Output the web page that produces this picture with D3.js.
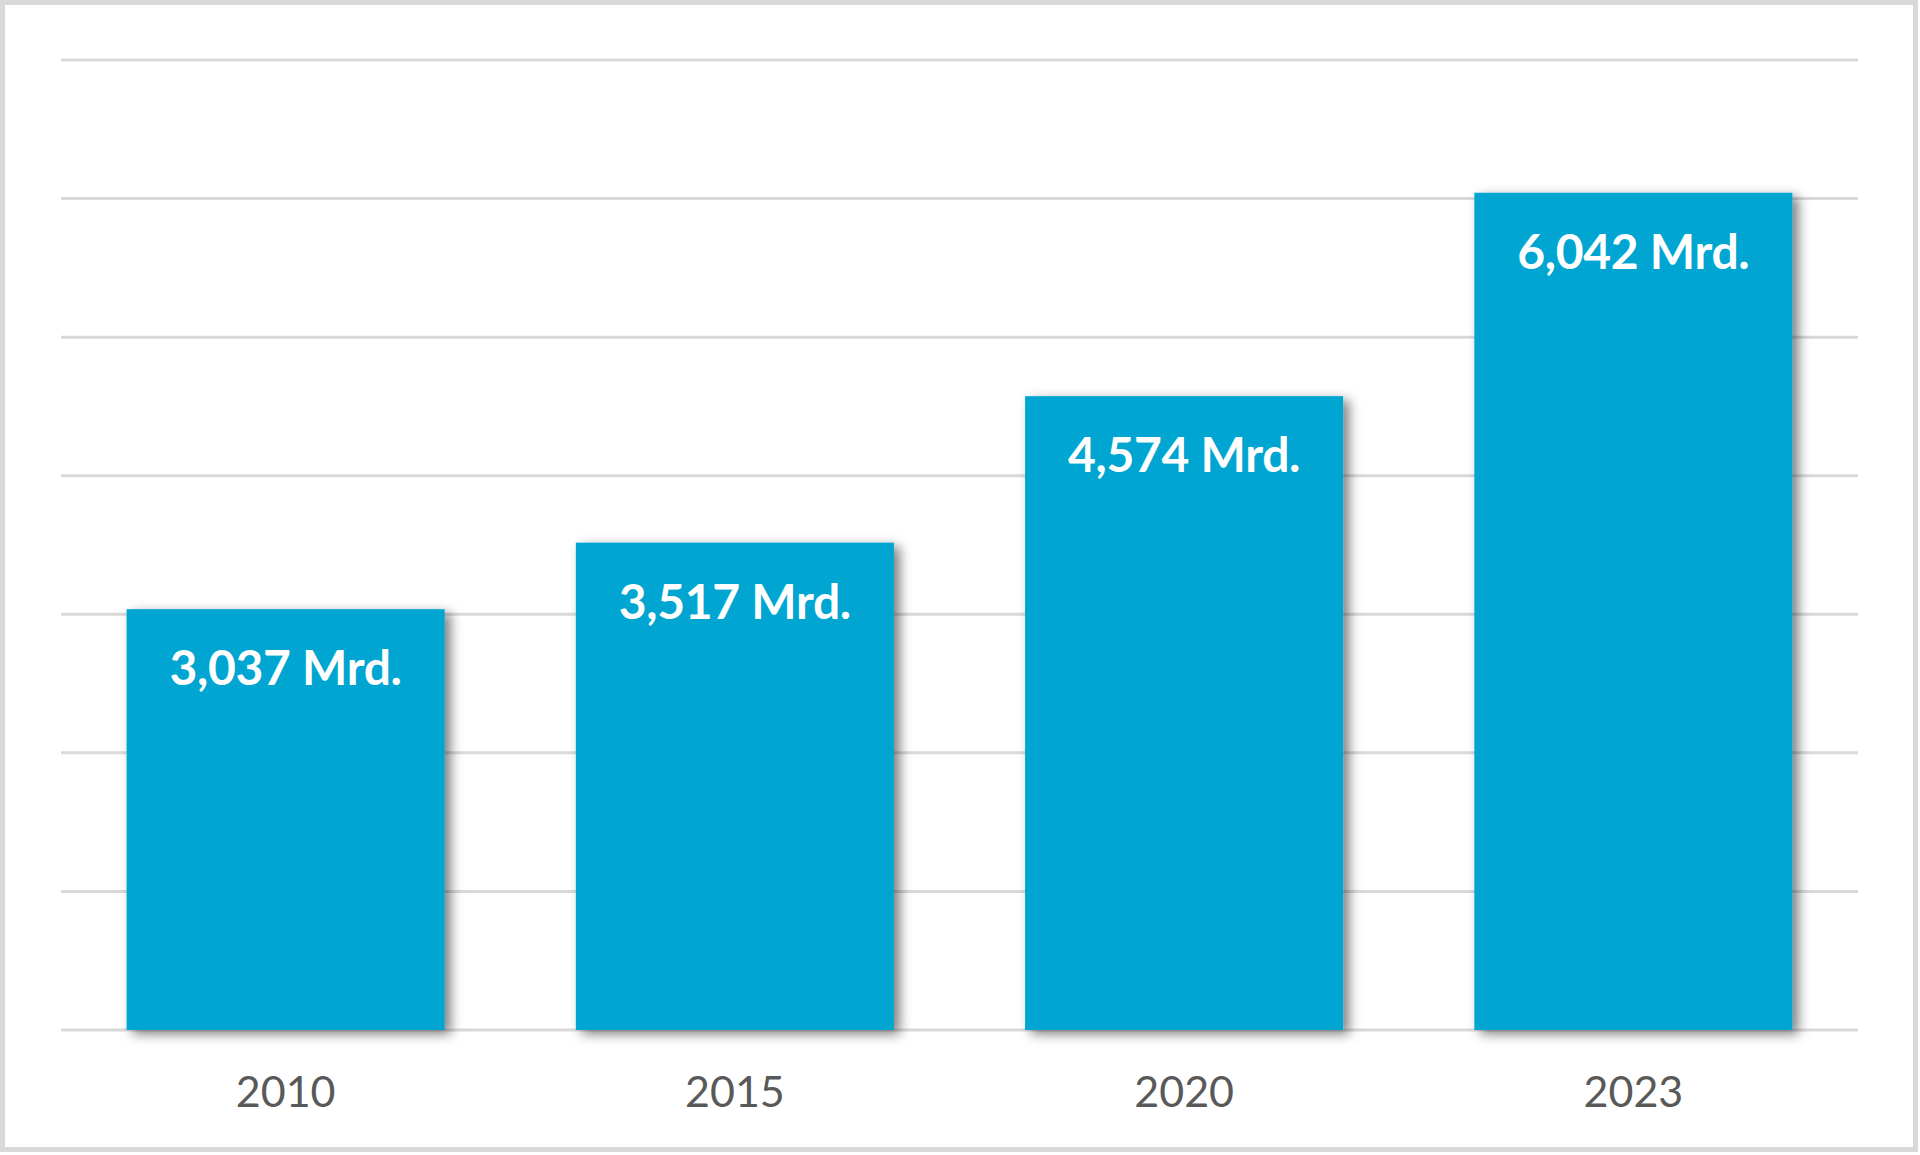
<!DOCTYPE html>
<html>
<head>
	<meta charset="utf-8">
	<title>Mrd.</title>
	<script src="https://d3js.org/d3.v7.min.js"></script>
	<style>
		body { margin: 0; background: #fff; }
	</style>
</head>
<body>
	<div class="chart"></div>

	<script type="text/javascript">
		// Daten
		const years = ['2010', '2015', '2020', '2023']
		const values = [3.037, 3.517, 4.574, 6.042]
		const labels = ['3,037 Mrd.', '3,517 Mrd.', '4,574 Mrd.', '6,042 Mrd.']
		const yTicks = [0, 1, 2, 3, 4, 5, 6, 7]

		const width = 1920
		const height = 1155
		const margin = { top: 60, right: 62, bottom: 125, left: 61 }

		const svg = d3.select('.chart').append('svg')
			.attr('width', width)
			.attr('height', height)

		// Rahmen
		svg.append('rect')
			.attr('x', 2.5)
			.attr('y', 2.5)
			.attr('width', width - 7)
			.attr('height', height - 8)
			.attr('fill', '#fff')
			.attr('stroke', '#d9d9d9')
			.attr('stroke-width', 5)

		const defs = svg.append('defs')
		defs.append('filter')
			.attr('id', 'shadow')
			.attr('x', '-10%').attr('y', '-10%')
			.attr('width', '130%').attr('height', '130%')
			.append('feDropShadow')
			.attr('dx', 6)
			.attr('dy', 4)
			.attr('stdDeviation', 6)
			.attr('flood-color', '#000')
			.attr('flood-opacity', 0.5)

		const chart = svg.append('g')
			.attr('transform', `translate(${margin.left}, ${margin.top})`)

		const innerW = width - margin.left - margin.right
		const innerH = height - margin.top - margin.bottom

		const xScale = d3.scaleBand()
			.domain(years)
			.range([0, innerW])
			.paddingInner(0.292)
			.paddingOuter(0.146)

		const yScale = d3.scaleLinear()
			.domain([0, 7])
			.range([innerH, 0])

		// Gitterlinien
		chart.append('g')
			.selectAll('line')
			.data(yTicks)
			.join('line')
			.attr('x1', 0)
			.attr('x2', innerW)
			.attr('y1', d => yScale(d))
			.attr('y2', d => yScale(d))
			.attr('stroke', '#d9d9d9')
			.attr('stroke-width', 3)

		// Balken
		chart.append('g')
			.selectAll('rect')
			.data(values)
			.join('rect')
			.attr('x', (d, i) => xScale(years[i]))
			.attr('y', d => yScale(d))
			.attr('width', xScale.bandwidth())
			.attr('height', d => yScale(0) - yScale(d))
			.attr('fill', '#02a6d1')
			.attr('filter', 'url(#shadow)')

		// Werte
		chart.append('g')
			.selectAll('text')
			.data(values)
			.join('text')
			.attr('x', (d, i) => xScale(years[i]) + xScale.bandwidth() / 2)
			.attr('y', d => yScale(d) + 76)
			.attr('text-anchor', 'middle')
			.attr('fill', '#fff')
			.attr('font-family', 'Lato, sans-serif')
			.attr('font-weight', 'bold')
			.attr('font-size', 48)
			.attr('letter-spacing', -0.3)
			.text((d, i) => labels[i])

		// x-Achse
		const xAxis = d3.axisBottom(xScale).tickSize(0).tickPadding(0)
		const gx = chart.append('g')
			.attr('transform', `translate(0, ${innerH})`)
			.call(xAxis)
		gx.select('.domain').remove()
		gx.selectAll('text')
			.attr('dy', 0)
			.attr('y', 77)
			.attr('fill', '#595959')
			.attr('font-family', 'Lato, sans-serif')
			.attr('font-size', 43)
	</script>
</body>
</html>
